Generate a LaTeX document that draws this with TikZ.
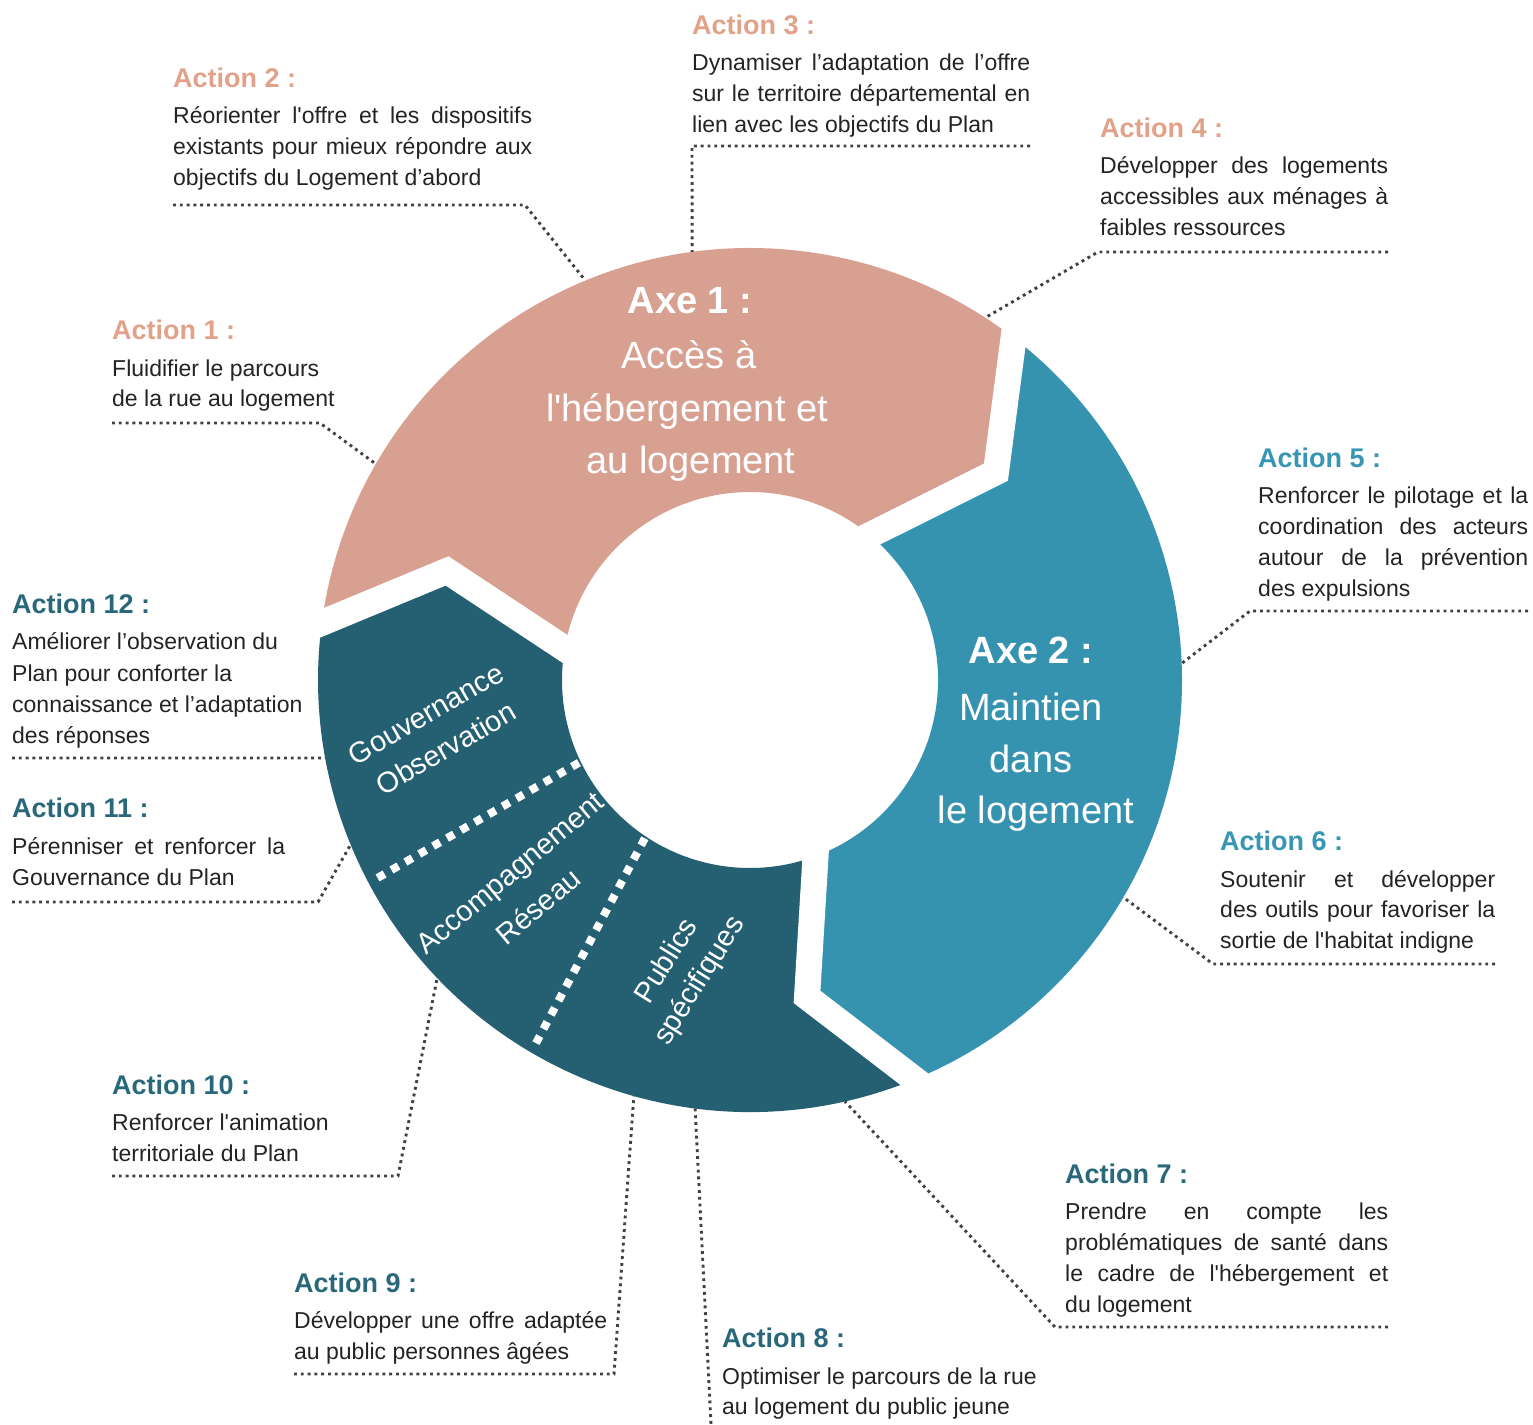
\documentclass[tikz,border=0pt]{standalone}
\usepackage{fontspec}
\setmainfont{Liberation Sans}[Ligatures=TeXOff]
\usetikzlibrary{calc}
\definecolor{pinkc}{RGB}{216,160,145}
\definecolor{bluec}{RGB}{54,147,176}
\definecolor{darkc}{RGB}{36,95,114}
\definecolor{pinkt}{RGB}{226,162,138}
\definecolor{bluet}{RGB}{56,150,181}
\definecolor{darkt}{RGB}{40,104,122}
\definecolor{bodyc}{RGB}{35,35,35}
\definecolor{dotc}{RGB}{65,65,65}
\newcommand\J[2]{\makebox[#1pt][s]{#2}}
\tikzset{
  ttl/.style={anchor=base west, inner sep=0pt, font=\fontsize{27}{32}\selectfont\bfseries},
  txt/.style={anchor=base west, inner sep=0pt, yshift=4pt, font=\fontsize{23}{31}\selectfont, text=bodyc},
  dotl/.style={draw=dotc, line width=2.9pt, dash pattern=on 2.9pt off 3.9pt},
  gapl/.style={draw=white, line width=26pt, line join=miter},
  sepl/.style={draw=white, line width=8pt, dash pattern=on 8pt off 8pt},
  axt/.style={anchor=base, inner sep=0pt, text=white, font=\fontsize{38}{44}\selectfont},
  axb/.style={anchor=base, inner sep=0pt, text=white, font=\fontsize{38}{44}\selectfont\bfseries},
  rotl/.style={inner sep=0pt, text=white, font=\fontsize{29}{40}\selectfont}
}
\begin{document}
\begin{tikzpicture}[x=1pt,y=1pt]
\useasboundingbox (0,0) rectangle (1533,-1424);
% ring
\begin{scope}[shift={(750,-680)}]
\fill[pinkc] (172.4:432) arc[start angle=172.4,end angle=52.4,radius=432] -- (40.2:322) -- (50.4:188)
  arc[start angle=50.4,end angle=170.4,radius=188] -- (160.2:322) -- cycle;
\fill[bluec] (52.4:432) arc[start angle=52.4,end angle=-67.6,radius=432] -- (-79.8:322) -- (-69.6:188)
  arc[start angle=-69.6,end angle=50.4,radius=188] -- (40.2:322) -- cycle;
\fill[darkc] (-67.6:432) arc[start angle=-67.6,end angle=-187.6,radius=432] -- (-199.8:322) -- (-189.6:188)
  arc[start angle=-189.6,end angle=-69.6,radius=188] -- (-79.8:322) -- cycle;
\foreach \a in {52.4,-67.6,172.4}{
  \draw[gapl] ($(\a:432)!-0.35!(\a-12.2:322)$) -- (\a-12.2:322) -- ($(\a-2:188)!-0.35!(\a-12.2:322)$);
}
\draw[sepl] (205.8:190) -- (208:424);
\draw[sepl] (236.4:190) -- (239.5:424);
% ring anchor points for connectors
\coordinate (r1) at (150:432);
\coordinate (r2) at (112.4:432);
\coordinate (r3) at (97.7:432);
\coordinate (r4) at (57:432);
\coordinate (r5) at (2.2:432);
\coordinate (r6) at (-30.2:432);
\coordinate (r7) at (-77.3:432);
\coordinate (r8) at (-97.3:432);
\coordinate (r9) at (-105.6:432);
\coordinate (r10) at (-136.4:432);
\coordinate (r11) at (-157.6:432);
\coordinate (r12) at (-169.6:432);
\end{scope}
% ring labels
\node[axb] (x1t) at (690,-313) {Axe 1 :};
\node[axt] (x1a) at (689,-368) {Accès à};
\node[axt] (x1b) at (687,-421) {l'hébergement et};
\node[axt] (x1c) at (691,-473) {au logement};
\node[axb] (x2t) at (1031,-663) {Axe 2 :};
\node[axt] (x2a) at (1031,-720) {Maintien};
\node[axt] (x2b) at (1031,-772) {dans};
\node[axt] (x2c) at (1036,-823) {le logement};
\node[rotl, rotate=30] (g1a) at (426,-714) {Gouvernance};
\node[rotl, rotate=30] (g1b) at (446,-748) {Observation};
\node[rotl, rotate=40] (g2a) at (512,-875) {Accompagnement};
\node[rotl, rotate=40] (g2b) at (538,-906) {Réseau};
\node[rotl, rotate=58] (g3a) at (665,-960) {Publics};
\node[rotl, rotate=58] (g3b) at (700,-981) {spécifiques};
% Action 1
\node[ttl, text=pinkt] (a1t) at (112,-339) {Action 1 :};
\node[txt] (a1l1) at (112,-380) {Fluidifier le parcours};
\node[txt] (a1l2) at (112,-410) {de la rue au logement};
\coordinate (a1s) at (112,-423); \coordinate (a1e) at (320,-423);
\draw[dotl] (a1s) -- (a1e) -- (r1);
% Action 2
\node[ttl, text=pinkt] (a2t) at (173,-87) {Action 2 :};
\node[txt] (a2l1) at (173,-127) {\J{359}{Réorienter l'offre et les dispositifs}};
\node[txt] (a2l2) at (173,-158) {\J{359}{existants pour mieux répondre aux}};
\node[txt] (a2l3) at (173,-189) {objectifs du Logement d’abord};
\coordinate (a2s) at (173,-205); \coordinate (a2e) at (525,-205);
\draw[dotl] (a2s) -- (a2e) -- (r2);
% Action 3
\node[ttl, text=pinkt] (a3t) at (692,-34) {Action 3 :};
\node[txt] (a3l1) at (692,-74) {\J{338}{Dynamiser l’adaptation de l’offre}};
\node[txt] (a3l2) at (692,-105) {\J{338}{sur le territoire départemental en}};
\node[txt] (a3l3) at (692,-136) {lien avec les objectifs du Plan};
\coordinate (a3s) at (1030,-146); \coordinate (a3e) at (692,-146);
\draw[dotl] (a3s) -- (a3e) -- (r3);
% Action 4
\node[ttl, text=pinkt] (a4t) at (1100,-137) {Action 4 :};
\node[txt] (a4l1) at (1100,-177) {\J{288}{Développer des logements}};
\node[txt] (a4l2) at (1100,-208) {\J{288}{accessibles aux ménages à}};
\node[txt] (a4l3) at (1100,-239) {faibles ressources};
\coordinate (a4s) at (1388,-252); \coordinate (a4e) at (1098,-252);
\draw[dotl] (a4s) -- (a4e) -- (r4);
% Action 5
\node[ttl, text=bluet] (a5t) at (1258,-467) {Action 5 :};
\node[txt] (a5l1) at (1258,-507) {\J{270}{Renforcer le pilotage et la}};
\node[txt] (a5l2) at (1258,-538) {\J{270}{coordination des acteurs}};
\node[txt] (a5l3) at (1258,-569) {\J{270}{autour de la prévention}};
\node[txt] (a5l4) at (1258,-600) {des expulsions};
\coordinate (a5s) at (1528,-611); \coordinate (a5e) at (1250,-611);
\draw[dotl] (a5s) -- (a5e) -- (r5);
% Action 6
\node[ttl, text=bluet] (a6t) at (1220,-850) {Action 6 :};
\node[txt] (a6l1) at (1220,-891) {\J{275}{Soutenir et développer}};
\node[txt] (a6l2) at (1220,-921) {\J{275}{des outils pour favoriser la}};
\node[txt] (a6l3) at (1220,-952) {sortie de l'habitat indigne};
\coordinate (a6s) at (1495,-964); \coordinate (a6e) at (1213,-964);
\draw[dotl] (a6s) -- (a6e) -- (r6);
% Action 7
\node[ttl, text=darkt] (a7t) at (1065,-1183) {Action 7 :};
\node[txt] (a7l1) at (1065,-1223) {\J{323}{Prendre en compte les}};
\node[txt] (a7l2) at (1065,-1254) {\J{323}{problématiques de santé dans}};
\node[txt] (a7l3) at (1065,-1285) {\J{323}{le cadre de l'hébergement et}};
\node[txt] (a7l4) at (1065,-1316) {du logement};
\coordinate (a7s) at (1388,-1327); \coordinate (a7e) at (1055,-1327);
\draw[dotl] (a7s) -- (a7e) -- (r7);
% Action 8
\node[ttl, text=darkt] (a8t) at (722,-1347) {Action 8 :};
\node[txt] (a8l1) at (722,-1388) {Optimiser le parcours de la rue};
\node[txt] (a8l2) at (722,-1418) {au logement du public jeune};
\coordinate (a8e) at (711,-1424);
\draw[dotl] (r8) -- (a8e);
% Action 9
\node[ttl, text=darkt] (a9t) at (294,-1292) {Action 9 :};
\node[txt] (a9l1) at (294,-1332) {\J{313}{Développer une offre adaptée}};
\node[txt] (a9l2) at (294,-1363) {au public personnes âgées};
\coordinate (a9s) at (294,-1374); \coordinate (a9e) at (614,-1374);
\draw[dotl] (a9s) -- (a9e) -- (r9);
% Action 10
\node[ttl, text=darkt] (a10t) at (112,-1094) {Action 10 :};
\node[txt] (a10l1) at (112,-1134) {Renforcer l'animation};
\node[txt] (a10l2) at (112,-1165) {territoriale du Plan};
\coordinate (a10s) at (112,-1176); \coordinate (a10e) at (398,-1176);
\draw[dotl] (a10s) -- (a10e) -- (r10);
% Action 11
\node[ttl, text=darkt] (a11t) at (12,-817) {Action 11 :};
\node[txt] (a11l1) at (12,-858) {\J{273}{Pérenniser et renforcer la}};
\node[txt] (a11l2) at (12,-889) {Gouvernance du Plan};
\coordinate (a11s) at (12,-902); \coordinate (a11e) at (318,-902);
\draw[dotl] (a11s) -- (a11e) -- (r11);
% Action 12
\node[ttl, text=darkt] (a12t) at (12,-613) {Action 12 :};
\node[txt] (a12l1) at (12,-653) {Améliorer l’observation du};
\node[txt] (a12l2) at (12,-685) {Plan pour conforter la};
\node[txt] (a12l3) at (12,-716) {connaissance et l’adaptation};
\node[txt] (a12l4) at (12,-747) {des réponses};
\coordinate (a12s) at (12,-758);
\draw[dotl] (a12s) -- (r12);
\end{tikzpicture}
\end{document}
